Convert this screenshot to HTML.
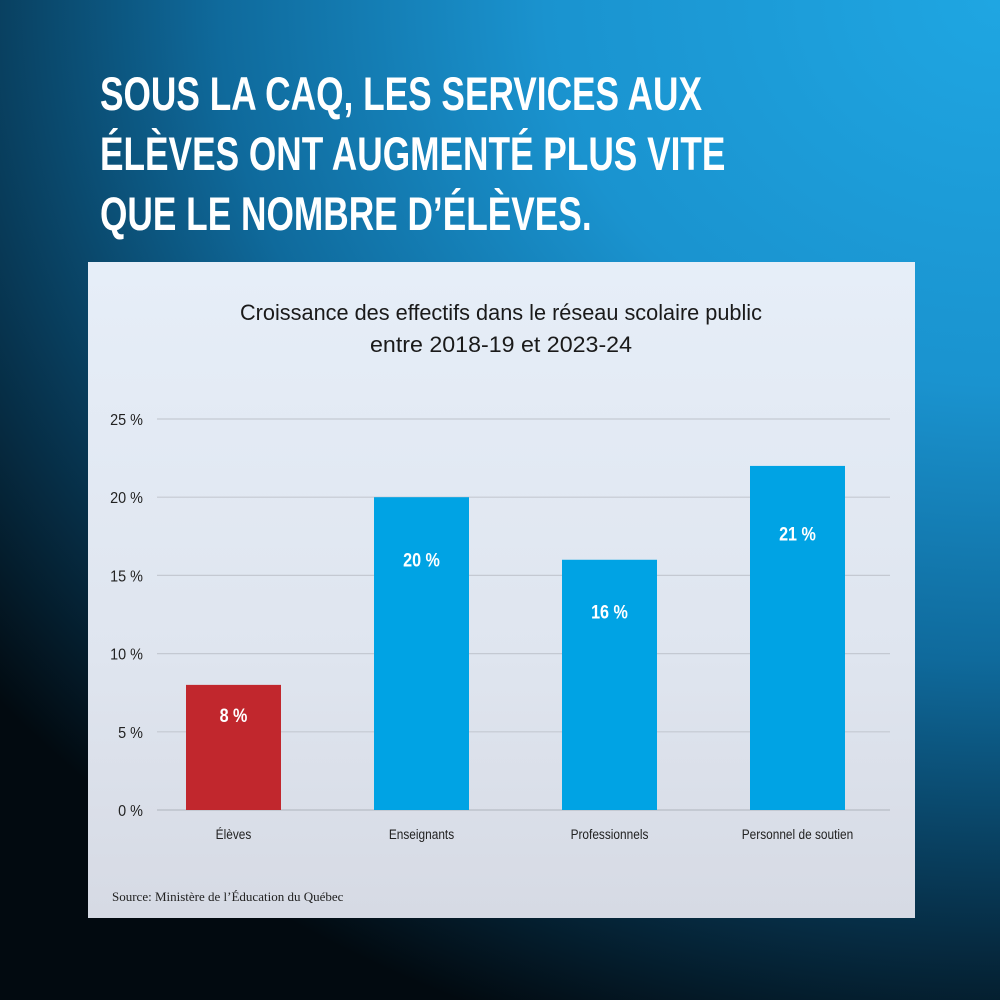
<!DOCTYPE html>
<html><head><meta charset="utf-8"><style>
html,body{margin:0;padding:0;width:1000px;height:1000px;overflow:hidden}
body{position:relative;font-family:"Liberation Sans",sans-serif;
background:radial-gradient(ellipse 1300px 1100px at 100% 0%,#1fa6e2 0%,#1a93cf 35%,#0f6a9c 60%,#07344f 82%,#020a10 100%)}
#title{position:absolute;left:100px;top:64px;color:#fff;font-weight:bold;font-size:47px;line-height:60px;transform:scaleX(0.75);transform-origin:0 0;white-space:nowrap}
#panel{position:absolute;left:88px;top:262px;width:827px;height:656px;background:linear-gradient(180deg,#e6eef8 0%,#dfe5ef 60%,#d6dae4 100%)}
svg{position:absolute;left:0;top:0}
</style></head><body>
<div id="title">SOUS LA CAQ, LES SERVICES AUX<br>ÉLÈVES ONT AUGMENTÉ PLUS VITE<br>QUE LE NOMBRE D’ÉLÈVES.</div>
<div id="panel"></div>
<svg id="chart" width="1000" height="1000">
<text x="240" y="320" textLength="522" lengthAdjust="spacingAndGlyphs" font-family="Liberation Sans, sans-serif" font-size="22" fill="#1a1a1a">Croissance des effectifs dans le réseau scolaire public</text>
<text x="370" y="352" textLength="262" lengthAdjust="spacingAndGlyphs" font-family="Liberation Sans, sans-serif" font-size="22" fill="#1a1a1a">entre 2018-19 et 2023-24</text>
<text x="112" y="901" font-family="Liberation Serif, serif" font-size="13" fill="#222">Source: Ministère de l’Éducation du Québec</text>
</svg>
<script>
const categories=["Élèves","Enseignants","Professionnels","Personnel de soutien"];
const values=[8,20,16,22];
const valueLabels=["8 %","20 %","16 %","21 %"];
const ticks=[0,5,10,15,20,25];
const tickLabels=["0 %","5 %","10 %","15 %","20 %","25 %"];
const svg=document.getElementById('chart');
const NS="http://www.w3.org/2000/svg";
const y0=810,pxPer=15.64,xL=157,xR=890;
const y=v=>y0-v*pxPer;
const xc=i=>233.5+i*188;
function mk(t,a,txt){const e=document.createElementNS(NS,t);for(const k in a)e.setAttribute(k,a[k]);if(txt!==undefined)e.textContent=txt;svg.appendChild(e);return e;}
const F='Liberation Sans, sans-serif';
ticks.forEach((t,i)=>{
 const l=mk('line',{x1:xL,x2:xR,y1:y(t),y2:y(t),stroke:t===0?'#b8bcc4':'#c4c9d2','stroke-width':1.2});
 
 
 const tx=mk('text',{x:143,y:y(t)+6,'text-anchor':'end','font-size':16,fill:'#222','font-family':F,transform:'translate(143,0) scale(0.9,1) translate(-143,0)'},tickLabels[i]);
 
 
});
categories.forEach((c,i)=>{
 const w=95,x=xc(i)-w/2,top=y(values[i]),h=y0-top;
 const r=mk('rect',{x:x,y:top,width:w,height:h,fill:i===0?'#c1272d':'#00a3e4'});
 
 
 const cx=xc(i);
 const vl=mk('text',{x:cx,y:top+0.17*h+16,'text-anchor':'middle','font-size':19,'font-weight':'bold',fill:'#fff','font-family':F,transform:`translate(${cx},0) scale(0.85,1) translate(${-cx},0)`},valueLabels[i]);
 
 
 const cl=mk('text',{x:cx,y:839,'text-anchor':'middle','font-size':13.5,fill:'#222','font-family':F,transform:`translate(${cx},0) scale(0.88,1) translate(${-cx},0)`},c);
 
 
});
</script>
</body></html>
